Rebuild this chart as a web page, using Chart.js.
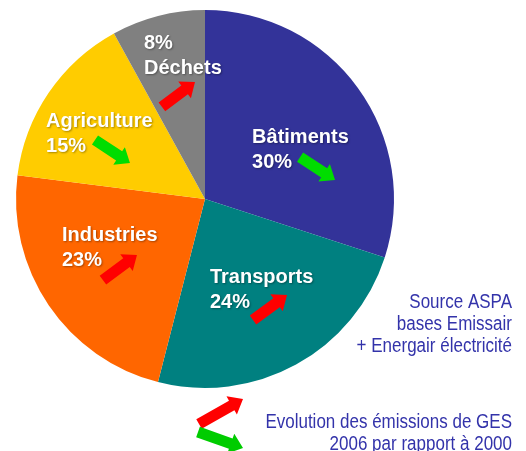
<!DOCTYPE html>
<html>
<head>
<meta charset="utf-8">
<script src="https://cdn.jsdelivr.net/npm/chart.js@4"></script>
<style>
html,body{margin:0;padding:0;background:#fff;}
#wrap{width:526px;height:451px;position:relative;}
</style>
</head>
<body>
<div id="wrap"><canvas id="c" width="526" height="451"></canvas></div>
<script>
const categories = ["Bâtiments", "Transports", "Industries", "Agriculture", "Déchets"];
const shares = [30, 24, 23, 15, 8];
const trends = ["down", "up", "up", "down", "up"];
const colors = ["#333399", "#008080", "#FF6600", "#FFCC00", "#808080"];
const sourceLines = ["Source ASPA", "bases Emissair", "+ Energair électricité"];
const legendLines = ["Evolution des émissions de GES", "2006 par rapport à 2000"];

function drawArrow(ctx, x1, y1, x2, y2, color, shaft, headW, headL) {
  const dx = x2 - x1, dy = y2 - y1;
  const len = Math.hypot(dx, dy);
  const ux = dx / len, uy = dy / len;
  const px = -uy, py = ux;
  const bx = x2 - ux * headL, by = y2 - uy * headL;
  const s = shaft / 2, h = headW / 2;
  ctx.save();
  ctx.beginPath();
  ctx.moveTo(x1 + px * s, y1 + py * s);
  ctx.lineTo(bx + px * s, by + py * s);
  ctx.lineTo(bx + px * h, by + py * h);
  ctx.lineTo(x2, y2);
  ctx.lineTo(bx - px * h, by - py * h);
  ctx.lineTo(bx - px * s, by - py * s);
  ctx.lineTo(x1 - px * s, y1 - py * s);
  ctx.closePath();
  ctx.fillStyle = color;
  ctx.fill();
  ctx.restore();
}

// label layout relative to pie centre, in units of the radius
const labelLayout = {
  "Bâtiments":   {x: 0.249, y: -0.296, pctFirst: false, arrow: [0.503, -0.222, 0.688, -0.101]},
  "Transports":  {x: 0.026, y: 0.444, pctFirst: false, arrow: [0.254, 0.640, 0.434, 0.508]},
  "Industries":  {x: -0.757, y: 0.222, pctFirst: false, arrow: [-0.540, 0.429, -0.360, 0.296]},
  "Agriculture": {x: -0.841, y: -0.381, pctFirst: false, arrow: [-0.582, -0.312, -0.397, -0.190]},
  "Déchets":     {x: -0.323, y: -0.794, pctFirst: true, arrow: [-0.228, -0.487, -0.053, -0.619]}
};

function narrowText(ctx, t, x, y, sx) {
  ctx.save();
  ctx.translate(x, y);
  ctx.scale(sx, 1);
  ctx.fillText(t, 0, 0);
  ctx.restore();
}

const overlay = {
  id: "overlay",
  afterDatasetsDraw(chart) {
    const ctx = chart.ctx;
    const arc0 = chart.getDatasetMeta(0).data[0];
    const cx = arc0.x, cy = arc0.y, r = arc0.outerRadius;
    ctx.save();
    ctx.font = "bold 20px 'Liberation Sans', Arial, sans-serif";
    ctx.textAlign = "left";
    ctx.textBaseline = "alphabetic";
    categories.forEach((cat, i) => {
      const L = labelLayout[cat];
      const x = cx + L.x * r, y = cy + L.y * r;
      const pct = shares[i] + "%";
      const lines = L.pctFirst ? [pct, cat] : [cat, pct];
      ctx.save();
      ctx.shadowColor = "rgba(0,0,0,0.35)";
      ctx.shadowBlur = 2;
      ctx.shadowOffsetX = 1;
      ctx.shadowOffsetY = 1;
      ctx.fillStyle = "#ffffff";
      ctx.fillText(lines[0], x, y);
      ctx.fillText(lines[1], x, y + 25);
      ctx.restore();
      const a = L.arrow;
      const col = trends[i] === "up" ? "#ff0000" : "#00dd00";
      drawArrow(ctx, cx + a[0] * r, cy + a[1] * r, cx + a[2] * r, cy + a[3] * r, col, 11, 21, 13);
    });
    // source text
    ctx.fillStyle = "#3333aa";
    ctx.font = "20px 'Liberation Sans', Arial, sans-serif";
    ctx.textAlign = "right";
    const rx = 512;
    sourceLines.forEach((t, k) => narrowText(ctx, t, rx, 308 + k * 22, 0.85));
    legendLines.forEach((t, k) => narrowText(ctx, t, rx, 428 + k * 22, 0.85));
    // legend arrows
    drawArrow(ctx, 199, 424, 243, 399, "#ff0000", 11, 21, 13);
    drawArrow(ctx, 198, 432, 243, 448, "#00cc00", 11, 21, 13);
    ctx.restore();
  }
};

new Chart(document.getElementById("c"), {
  type: "pie",
  data: {
    labels: categories,
    datasets: [{ data: shares, backgroundColor: colors, borderWidth: 0 }]
  },
  options: {
    responsive: false,
    animation: false,
    layout: { padding: { left: 16, top: 10, right: 132, bottom: 63 } },
    plugins: { legend: { display: false }, tooltip: { enabled: false } }
  },
  plugins: [overlay]
});
</script>
</body>
</html>
